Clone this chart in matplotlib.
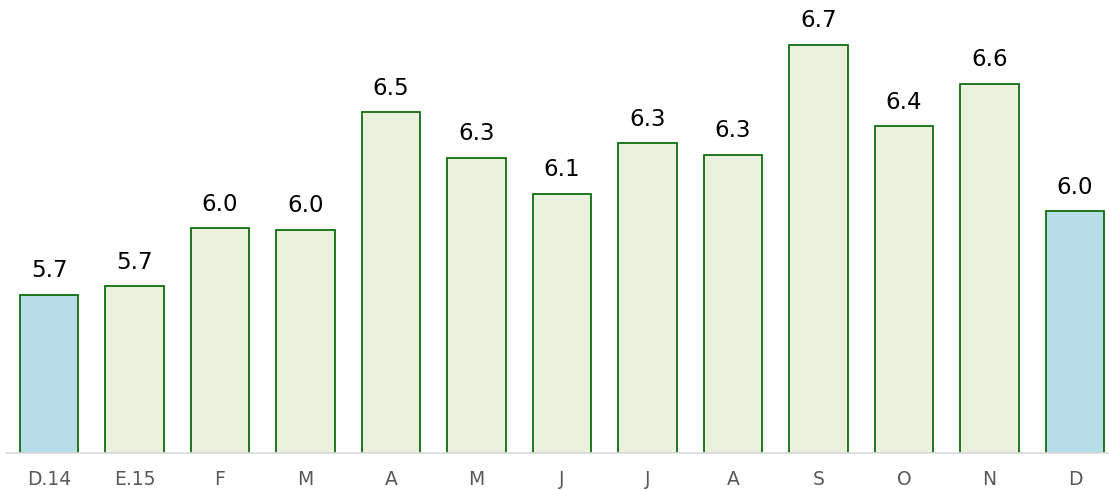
import matplotlib.pyplot as plt

months = ['D.14', 'E.15', 'F', 'M', 'A', 'M', 'J', 'J', 'A', 'S', 'O', 'N', 'D']
values = [5.694, 5.731, 5.975, 5.967, 6.462, 6.269, 6.118, 6.332, 6.282, 6.744, 6.403, 6.580, 6.046]
highlight = [True, False, False, False, False, False, False, False, False, False, False, False, True]

W, H = 1109, 490
fig = plt.figure(figsize=(W / 100, H / 100), dpi=100)
ax = fig.add_axes([6.25 / W, 37 / H, 1111.5 / W, 453 / H])

colors = ['#B7DDE8' if h else '#EBF1DE' for h in highlight]
x = list(range(len(months)))
bars = ax.bar(x, values, width=0.68, color=colors, edgecolor='#0E6E0E', linewidth=1.3)

ax.set_xlim(-0.5, len(months) - 0.5)
ax.set_ylim(5.03, 5.03 + 453 * 0.0042)

for rect, v in zip(bars, values):
    ax.annotate('%.1f' % v, (rect.get_x() + rect.get_width() / 2, v),
                xytext=(0, 9), textcoords='offset points',
                ha='center', va='bottom', fontsize=16.5, color='black',
                family='DejaVu Sans')

ax.set_xticks(x)
ax.set_xticklabels(months, fontsize=13.5, color='#595959', family='DejaVu Sans')
ax.tick_params(axis='x', length=0, pad=12)
ax.set_yticks([])
for s in ['top', 'left', 'right']:
    ax.spines[s].set_visible(False)
ax.spines['bottom'].set_color('#D9D9D9')
ax.spines['bottom'].set_linewidth(1.2)
ax.patch.set_alpha(0)

fig.savefig('out.png', dpi=100)
